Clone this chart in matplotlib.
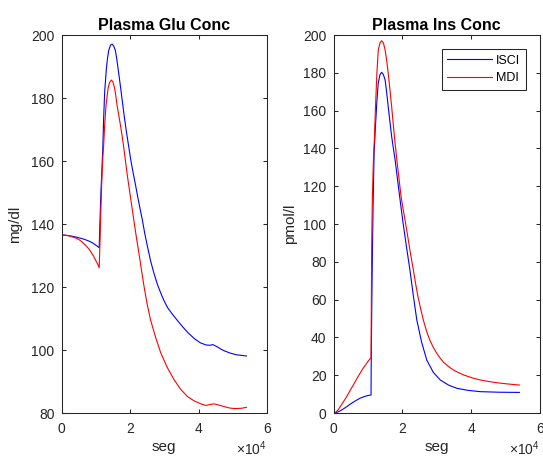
import numpy as np
import matplotlib
matplotlib.use('Agg')
from matplotlib import pyplot as plt

plt.rcParams['font.family'] = ['Liberation Sans', 'DejaVu Sans']
plt.rcParams['mathtext.fontset'] = 'custom'
plt.rcParams['mathtext.rm'] = 'Liberation Sans'

axcolor = '#262626'
tickfont = 10
labelfont = 11
titlefont = 11.5

# plasma glucose, ISCI (seconds, mg/dl)
glu_isci_t = [0, 1000, 2000, 3200, 4500, 5500, 6500, 7500, 8400, 9200, 10000,
              10500, 11000, 11200, 11500, 11800, 12050, 12300, 12600, 13100,
              13450, 13800, 14300, 14760, 15200, 15700, 16100, 16500, 16950,
              17400, 17900, 18400, 18900, 19400, 19850, 20300, 20950, 21600,
              22250, 22900, 23600, 24300, 25100, 26000, 27000, 28000, 29000,
              29900, 31000, 32400, 33900, 35500, 37000, 38800, 40500, 42200,
              43200, 44200, 45500, 46500, 47600, 49300, 51000, 52500, 54000]
glu_isci = [136.5, 136.45, 136.3, 136.1, 135.8, 135.5, 135.2, 134.8, 134.4, 133.9, 133.3,
            132.9, 132.5, 140.0, 150.0, 157.5, 164.0, 173.5, 182.0, 189.4,
            192.8, 195.2, 196.8, 197.1, 196.6, 195.2, 192.6, 189.4, 185.8,
            182.0, 177.7, 173.5, 169.6, 166.1, 162.9, 159.8, 156.0, 152.4,
            148.6, 145.0, 141.3, 137.0, 132.8, 128.3, 124.3, 120.8, 118.0,
            115.7, 113.4, 111.3, 109.3, 107.2, 105.4, 103.6, 102.3, 101.6,
            101.5, 101.7, 101.0, 100.3, 99.7, 99.0, 98.5, 98.3, 98.1]

# plasma glucose, MDI
glu_mdi_t = [0, 1000, 2000, 3200, 4500, 5300, 6000, 6700, 7400, 8100, 8800,
             9400, 9900, 10500, 11000, 11200, 11500, 11800, 12100, 12300,
             12600, 13000, 13600, 14000, 14560, 15000, 15500, 15850, 16200,
             16700, 17200, 17700, 18200, 18700, 19200, 19800, 20400, 21100,
             21850, 22600, 23350, 24100, 25000, 26000, 27500, 29000, 30900,
             32900, 34800, 36800, 38800, 40700, 41500, 42200, 43300, 44600,
             46000, 47600, 49000, 50500, 52500, 54000]
glu_mdi = [136.5, 136.45, 136.3, 135.9, 135.4, 134.9, 134.3, 133.6, 132.8, 131.9, 130.8,
           129.7, 128.6, 127.4, 126.1, 133.0, 145.0, 155.0, 161.9, 165.1,
           171.4, 177.8, 183.1, 184.9, 185.7, 185.1, 183.1, 180.7, 177.8,
           174.6, 171.4, 167.9, 164.0, 159.8, 155.5, 151.0, 146.5, 141.3,
           135.8, 130.7, 125.3, 120.1, 114.6, 109.5, 103.9, 99.0, 94.4,
           90.5, 87.5, 85.2, 83.8, 82.9, 82.6, 82.4, 82.7, 82.9,
           82.5, 82.0, 81.6, 81.4, 81.5, 81.8]

# plasma insulin, ISCI (seconds, pmol/l)
ins_isci_t = [0, 500, 1000, 1500, 2000, 2900, 3800, 4800, 5800, 6800, 7700,
              8500, 9300, 10100, 10900, 10950, 11200, 11500, 11800, 12200,
              12600, 13000, 13500, 14000, 14500, 15000, 15450, 15900, 16400,
              16900, 17400, 17900, 18350, 18800, 19450, 20100, 21150, 22200,
              23200, 24200, 25600, 27100, 29000, 31000, 33400, 35800, 39000,
              42600, 48000, 54000]
ins_isci = [0.0, 0.1, 0.4, 0.8, 1.2, 2.2, 3.3, 4.6, 5.8, 6.9, 7.8,
            8.4, 8.9, 9.3, 9.5, 25.0, 70.0, 110.0, 138.0, 152.0,
            165.0, 174.5, 179.0, 180.3, 179.0, 176.2, 169.5, 162.0, 154.0,
            146.2, 140.0, 133.9, 127.2, 120.6, 111.2, 102.0, 88.5, 75.7,
            62.0, 49.2, 37.5, 28.0, 21.5, 17.5, 14.8, 13.1, 12.0,
            11.3, 11.0, 10.9]

# plasma insulin, MDI
ins_mdi_t = [0, 500, 1000, 1500, 2000, 2900, 3800, 4800, 5800, 6800, 7700,
             8500, 9300, 10100, 10900, 11000, 11100, 11300, 11600, 11900,
             12200, 12600, 13000, 13500, 14000, 14500, 15000, 15450, 15900,
             16400, 16900, 17300, 17700, 18050, 18400, 19000, 19600, 20200,
             20800, 21600, 22400, 23200, 23850, 24500, 25300, 26100, 27000,
             28000, 29000, 30000, 31000, 32000, 33400, 34800, 36400, 38000,
             40300, 42600, 45300, 48000, 51000, 54000]
ins_mdi = [0.0, 0.3, 1.0, 2.1, 3.5, 6.0, 8.6, 11.8, 15.0, 18.2, 21.0,
           23.4, 25.5, 27.5, 29.3, 60.0, 90.0, 115.0, 133.9, 146.2,
           162.0, 179.7, 192.0, 195.8, 197.0, 195.8, 192.0, 186.5, 179.7,
           171.0, 162.0, 154.0, 146.2, 140.0, 133.9, 124.5, 115.0, 108.0,
           102.0, 93.0, 84.0, 75.7, 68.5, 62.0, 55.3, 49.2, 43.5,
           38.5, 34.7, 31.6, 29.0, 26.8, 24.6, 22.8, 21.3, 20.0,
           18.6, 17.5, 16.6, 15.9, 15.3, 14.8]

xticks = [0, 20000, 40000, 60000]
xticklabels = ['0', '2', '4', '6']
glu_yticks = [80, 100, 120, 140, 160, 180, 200]
ins_yticks = [0, 20, 40, 60, 80, 100, 120, 140, 160, 180, 200]


def style_axes(ax):
    for sp in ax.spines.values():
        sp.set_color(axcolor)
        sp.set_linewidth(0.75)
    ax.tick_params(direction='in', length=3, width=0.75, colors=axcolor,
                   labelsize=tickfont, top=True, right=True)
    ax.tick_params(axis='x', pad=6.5)
    ax.tick_params(axis='y', pad=5)
    ax.set_xlim(0, 60000)
    ax.set_xticks(xticks)
    ax.set_xticklabels(xticklabels)
    ax.text(1.0, -0.112, r'$\times\mathregular{10^{4}}$', transform=ax.transAxes,
            ha='right', va='baseline', fontsize=tickfont, color=axcolor)
    ax.set_xlabel('seg', fontsize=labelfont, color=axcolor)
    ax.xaxis.set_label_coords(0.5, -0.071)


fig = plt.figure(figsize=(5.43, 4.59), dpi=100)
ax1 = fig.add_axes([0.1133, 0.1002, 0.3785, 0.8235])
ax2 = fig.add_axes([0.6142, 0.1002, 0.3803, 0.8235])

ax1.plot(glu_isci_t, glu_isci, color='b', lw=0.8)
ax1.plot(glu_mdi_t, glu_mdi, color='r', lw=0.8)
ax1.set_ylim(80, 200)
ax1.set_yticks(glu_yticks)
style_axes(ax1)
ax1.set_title('Plasma Glu Conc', fontsize=titlefont, fontweight='bold',
              color='k', pad=3.5)
ax1.set_ylabel('mg/dl', fontsize=labelfont, color=axcolor)
ax1.yaxis.set_label_coords(-0.192, 0.5)

ax2.plot(ins_isci_t, ins_isci, color='b', lw=0.8, label='ISCI')
ax2.plot(ins_mdi_t, ins_mdi, color='r', lw=0.8, label='MDI')
ax2.set_ylim(0, 200)
ax2.set_yticks(ins_yticks)
style_axes(ax2)
ax2.set_title('Plasma Ins Conc', fontsize=titlefont, fontweight='bold',
              color='k', pad=3.5)
ax2.set_ylabel('pmol/l', fontsize=labelfont, color=axcolor)
ax2.yaxis.set_label_coords(-0.177, 0.5)

leg = ax2.legend(loc='upper right', bbox_to_anchor=(0.932, 0.963),
                 borderaxespad=0, fontsize=9, fancybox=False, framealpha=1,
                 handlelength=3.6, handletextpad=0.3, labelspacing=0.45,
                 borderpad=0.45)
leg.get_frame().set_edgecolor(axcolor)
leg.get_frame().set_linewidth(0.75)

fig.savefig('out.png', dpi=100)
